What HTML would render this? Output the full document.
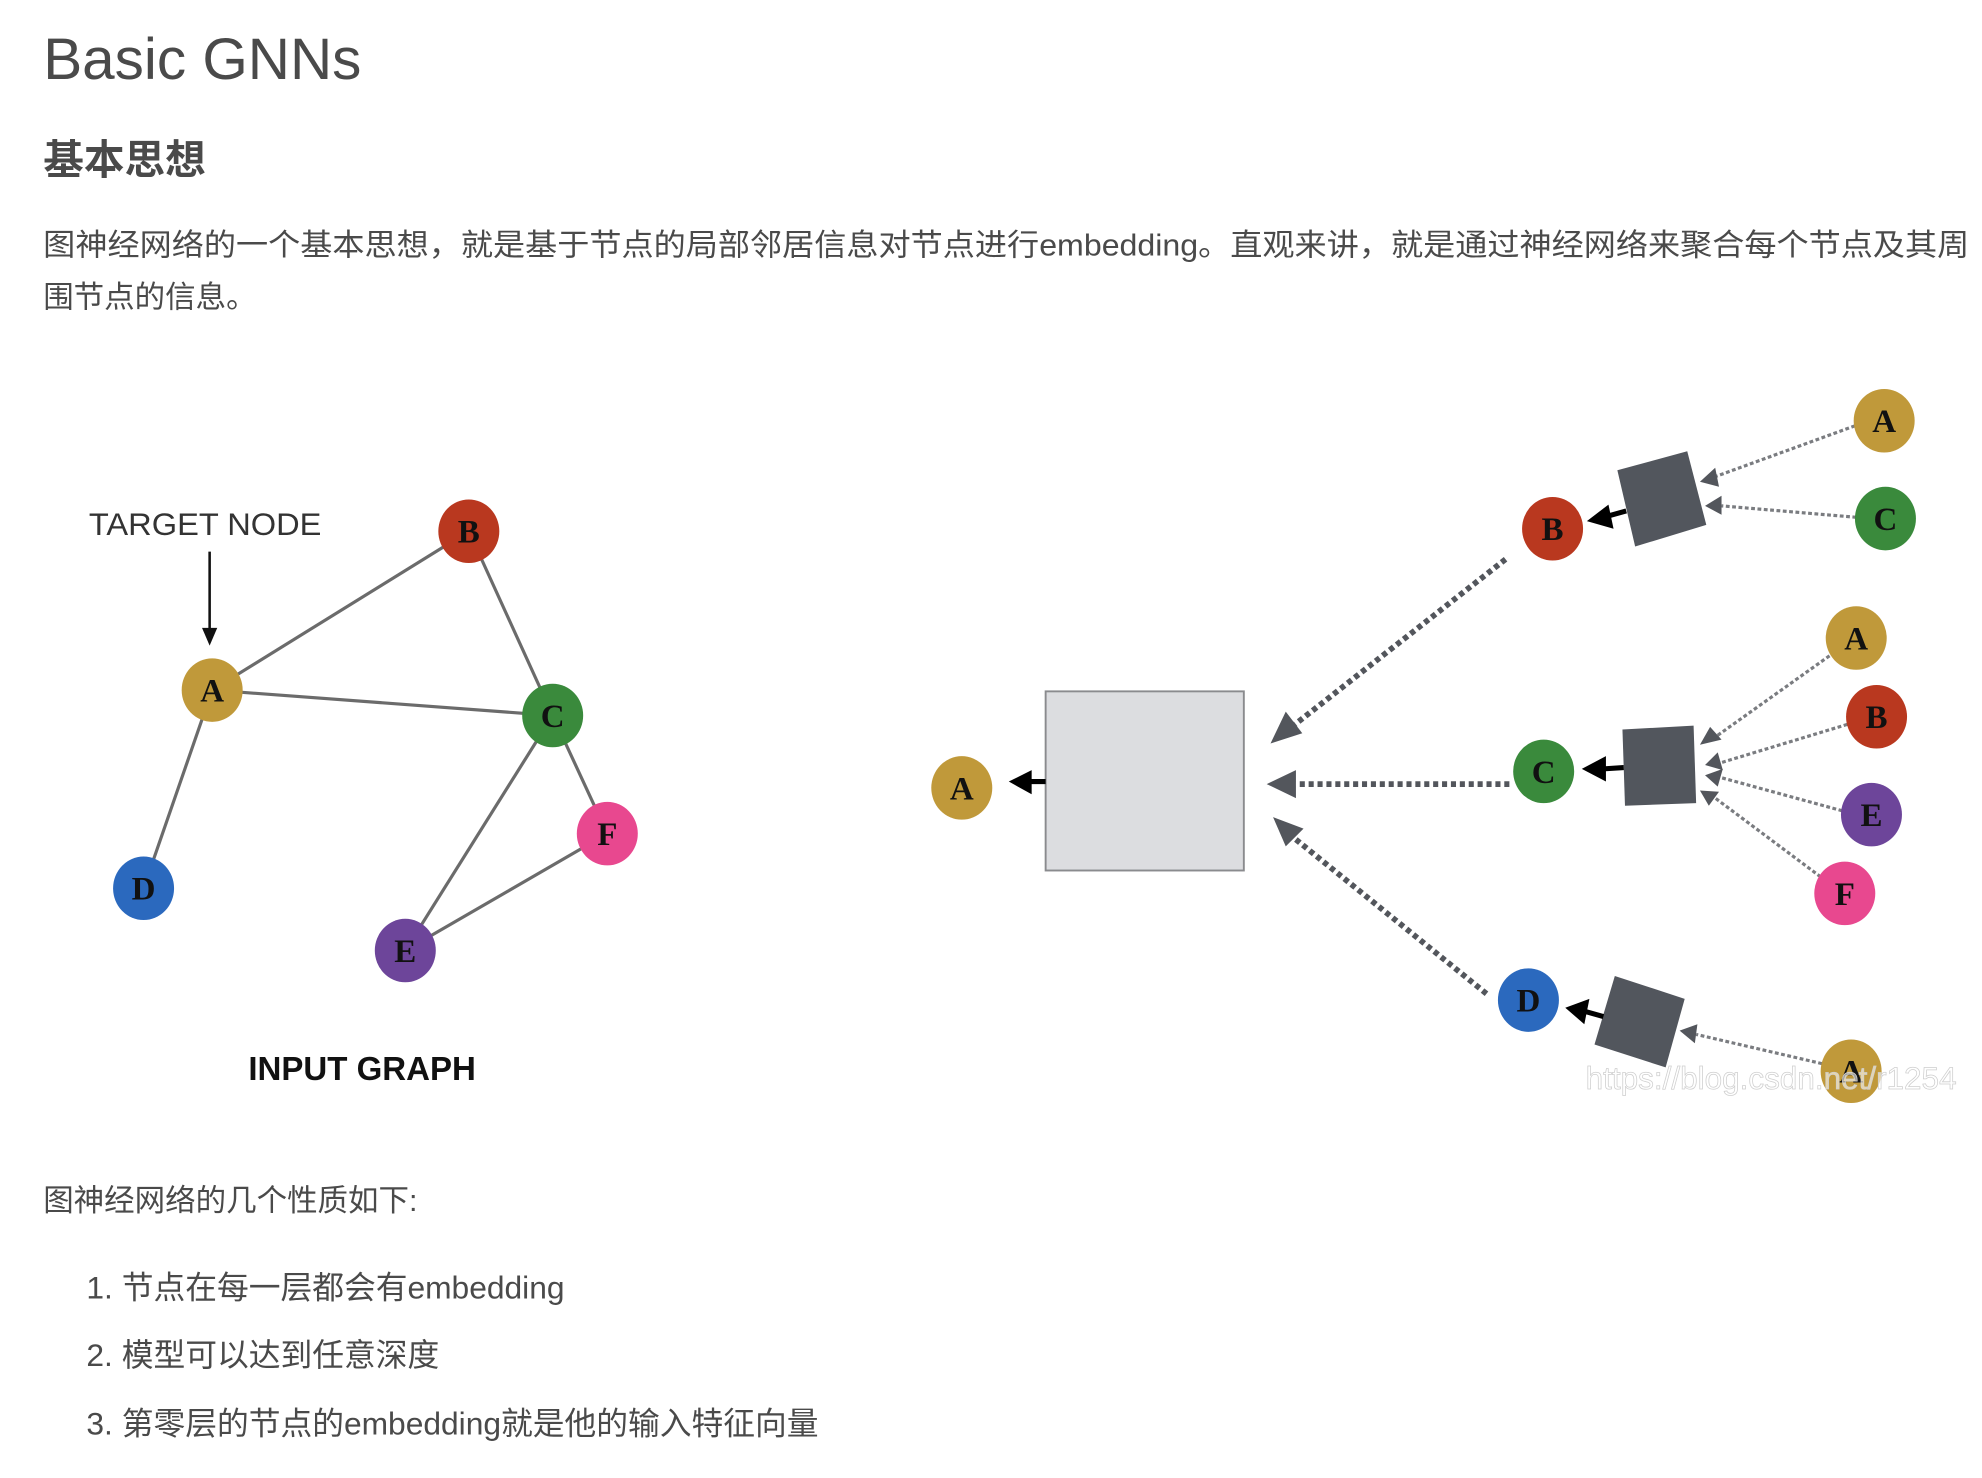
<!DOCTYPE html>
<html><head><meta charset="utf-8"><style>
html,body{margin:0;padding:0;background:#fff;width:1982px;height:1478px;overflow:hidden}
svg{display:block}
.t{font-family:"Liberation Sans","Noto Sans CJK SC",sans-serif;fill:#4a4a4a}
.n{font-family:"Liberation Serif",serif;font-weight:bold;font-size:26px;fill:#111;text-anchor:middle}
</style></head><body>
<svg width="1982" height="1478" viewBox="0 0 1560 1163" xmlns="http://www.w3.org/2000/svg">
<text class="t" x="34" y="62" font-size="46">Basic GNNs</text>
<text class="t" x="34" y="137" font-size="32" font-weight="bold">基本思想</text>
<text class="t" x="34" y="201" font-size="24" textLength="1516" lengthAdjust="spacingAndGlyphs">图神经网络的一个基本思想，就是基于节点的局部邻居信息对节点进行embedding。直观来讲，就是通过神经网络来聚合每个节点及其周</text>
<text class="t" x="34" y="242" font-size="24">围节点的信息。</text>

<!-- left graph -->
<text x="70" y="421" font-family="Liberation Sans,sans-serif" font-size="25" fill="#333" textLength="183" lengthAdjust="spacingAndGlyphs">TARGET NODE</text>
<line x1="165" y1="434" x2="165" y2="496" stroke="#111" stroke-width="2"/>
<path d="M159 494L171 494L165 508z" fill="#111"/>
<g stroke="#6b6b6b" stroke-width="2.5">
<line x1="167" y1="543" x2="369" y2="418"/>
<line x1="167" y1="543" x2="435" y2="563"/>
<line x1="369" y1="418" x2="435" y2="563"/>
<line x1="167" y1="543" x2="113" y2="699"/>
<line x1="435" y1="563" x2="478" y2="656"/>
<line x1="435" y1="563" x2="319" y2="748"/>
<line x1="478" y1="656" x2="319" y2="748"/>
</g>
<g>
<ellipse cx="369" cy="418" rx="24" ry="25" fill="#b9381f"/><text class="n" x="369" y="427">B</text>
<ellipse cx="167" cy="543" rx="24" ry="25" fill="#c0993a"/><text class="n" x="167" y="552">A</text>
<ellipse cx="435" cy="563" rx="24" ry="25" fill="#3a8a3c"/><text class="n" x="435" y="572">C</text>
<ellipse cx="478" cy="656" rx="24" ry="25" fill="#e8488f"/><text class="n" x="478" y="665">F</text>
<ellipse cx="113" cy="699" rx="24" ry="25" fill="#2b69be"/><text class="n" x="113" y="708">D</text>
<ellipse cx="319" cy="748" rx="24" ry="25" fill="#6d459a"/><text class="n" x="319" y="757">E</text>
</g>
<text x="285" y="850" text-anchor="middle" font-family="Liberation Sans,sans-serif" font-weight="bold" font-size="26" fill="#111">INPUT GRAPH</text>

<!-- right diagram -->
<rect x="823" y="544" width="156" height="141" fill="#dcdde0" stroke="#8a8b8e" stroke-width="1.5"/>
<line x1="823" y1="615" x2="808" y2="615" stroke="#000" stroke-width="4"/>
<path d="M794 615L812 606L812 625z" fill="#000"/>
<ellipse cx="757" cy="620" rx="24" ry="25" fill="#c0993a"/><text class="n" x="757" y="629">A</text>

<g stroke="#53565c" stroke-width="4.5" stroke-dasharray="4 3" fill="none">
<line x1="1185" y1="440" x2="1018" y2="571"/>
<line x1="1188" y1="617" x2="1020" y2="617"/>
<line x1="1170" y1="782" x2="1018" y2="659"/>
</g>
<path d="M1000 585L1012 560L1025 577z" fill="#53565c"/>
<path d="M997 617L1020 606L1020 628z" fill="#53565c"/>
<path d="M1002 643L1026 652L1012 666z" fill="#53565c"/>

<polygon points="1273,370 1328,355 1343,413 1287,430" fill="#52565d"/>
<polygon points="1277,574 1333,571 1335,632 1279,634" fill="#52565d"/>
<polygon points="1271,768 1326,786 1311,840 1255,822" fill="#52565d"/>

<g stroke="#000" stroke-width="4">
<line x1="1280" y1="402" x2="1262" y2="407"/>
<line x1="1278" y1="604" x2="1262" y2="605"/>
<line x1="1262" y1="800" x2="1248" y2="796"/>
</g>
<path d="M1249 410L1266 397L1270 416z" fill="#000"/>
<path d="M1245 605L1264 595L1264 615z" fill="#000"/>
<path d="M1232 793L1251 786L1247 806z" fill="#000"/>

<g stroke="#7a7c80" stroke-width="2.5" stroke-dasharray="3 2" fill="none">
<line x1="1460" y1="335" x2="1350" y2="375"/>
<line x1="1461" y1="407" x2="1355" y2="398"/>
<line x1="1440" y1="516" x2="1350" y2="580"/>
<line x1="1454" y1="570" x2="1355" y2="600"/>
<line x1="1450" y1="638" x2="1355" y2="612"/>
<line x1="1433" y1="690" x2="1350" y2="628"/>
<line x1="1434" y1="837" x2="1335" y2="814"/>
</g>
<g fill="#53565c">
<path d="M1338 379L1350 368L1353 383z"/>
<path d="M1342 398L1355 390L1355 405z"/>
<path d="M1338 586L1346 572L1355 582z"/>
<path d="M1342 602L1352 592L1356 606z"/>
<path d="M1342 610L1356 605L1352 619z"/>
<path d="M1338 622L1353 623L1345 634z"/>
<path d="M1322 811L1336 806L1334 821z"/>
</g>

<ellipse cx="1222" cy="416" rx="24" ry="25" fill="#b9381f"/><text class="n" x="1222" y="425">B</text>
<ellipse cx="1215" cy="607" rx="24" ry="25" fill="#3a8a3c"/><text class="n" x="1215" y="616">C</text>
<ellipse cx="1203" cy="787" rx="24" ry="25" fill="#2b69be"/><text class="n" x="1203" y="796">D</text>

<ellipse cx="1483" cy="331" rx="24" ry="25" fill="#c0993a"/><text class="n" x="1483" y="340">A</text>
<ellipse cx="1484" cy="408" rx="24" ry="25" fill="#3a8a3c"/><text class="n" x="1484" y="417">C</text>
<ellipse cx="1461" cy="502" rx="24" ry="25" fill="#c0993a"/><text class="n" x="1461" y="511">A</text>
<ellipse cx="1477" cy="564" rx="24" ry="25" fill="#b9381f"/><text class="n" x="1477" y="573">B</text>
<ellipse cx="1473" cy="641" rx="24" ry="25" fill="#6d459a"/><text class="n" x="1473" y="650">E</text>
<ellipse cx="1452" cy="703" rx="24" ry="25" fill="#e8488f"/><text class="n" x="1452" y="712">F</text>
<ellipse cx="1457" cy="843" rx="24" ry="25" fill="#c0993a"/><text class="n" x="1457" y="852">A</text>
<text x="1248" y="857" font-family="Liberation Sans,sans-serif" font-size="25" fill="#ffffff" fill-opacity="0.6" stroke="#cfcfcf" stroke-width="0.6" textLength="292" lengthAdjust="spacingAndGlyphs">https://blog.csdn.net/r1254</text>

<!-- bottom text -->
<text class="t" x="34" y="953" font-size="24">图神经网络的几个性质如下:</text>
<text class="t" x="68" y="1022" font-size="25">1. 节点在每一层都会有embedding</text>
<text class="t" x="68" y="1075" font-size="25">2. 模型可以达到任意深度</text>
<text class="t" x="68" y="1129" font-size="25">3. 第零层的节点的embedding就是他的输入特征向量</text>
</svg>
</body></html>
